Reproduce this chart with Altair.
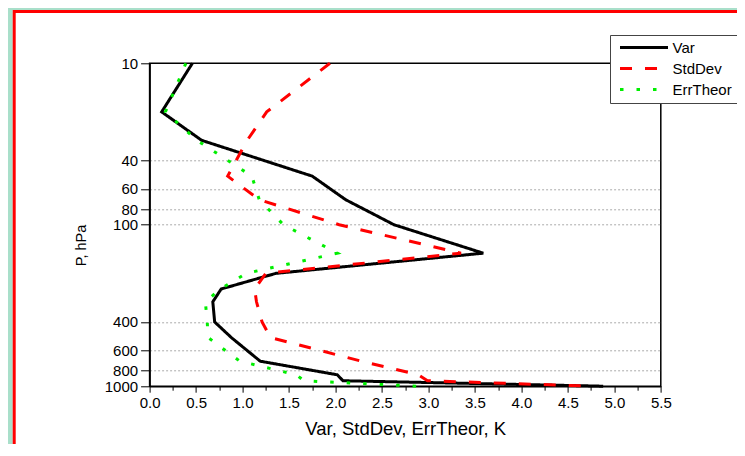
import altair as alt
import pandas as pd

# ---- data ----
pressure = [10, 20, 30, 50, 70, 100, 150, 200, 250, 300, 400, 500, 700, 850, 925, 1000]
var_vals = [0.46, 0.13, 0.56, 1.75, 2.11, 2.63, 3.59, 1.36, 0.77, 0.68, 0.70, 0.88, 1.19, 2.02, 2.08, 4.88]
stddev_vals = [1.94, 1.26, 1.05, 0.84, 1.18, 2.04, 3.35, 1.25, 1.13, 1.15, 1.21, 1.30, 2.28, 2.89, 2.99, 4.76]
errtheor_vals = [0.39, 0.17, 0.51, 1.10, 1.18, 1.44, 2.02, 1.04, 0.76, 0.60, 0.62, 0.63, 0.97, 1.58, 1.66, 2.88]

series_names = ["Var", "StdDev", "ErrTheor"]
series_colors = ["#000000", "#FF0000", "#00EE00"]
series_dashes = [[1, 0], [12, 13], [3.5, 13]]

y_tick_values = [10, 40, 60, 80, 100, 400, 600, 800, 1000]
x_tick_values = [0.0, 0.25, 0.5, 0.75, 1.0, 1.25, 1.5, 1.75, 2.0, 2.25, 2.5, 2.75,
                 3.0, 3.25, 3.5, 3.75, 4.0, 4.25, 4.5, 4.75, 5.0, 5.25, 5.5]

rows = []
for name, vals in zip(series_names, [var_vals, stddev_vals, errtheor_vals]):
    for p, v in zip(pressure, vals):
        rows.append({"series": name, "P": p, "value": v})
df = pd.DataFrame(rows)
one = pd.DataFrame({"k": [0]})

GREEN = "#A9DFCA"
FONT = "Liberation Sans"
W, H = 511.2, 322.9

leg = alt.Legend(
    title=None, orient="none", legendX=460.4, legendY=-28.3,
    symbolType="M-5,0H5", symbolSize=92.16, symbolStrokeWidth=3,
    symbolOffset=21.5, labelOffset=21, labelFontSize=15, labelFont=FONT,
    labelColor="black", rowPadding=5, padding=5,
    strokeColor="#444444", fillColor="white",
)

green_left = alt.Chart(one).mark_rect(fill=GREEN).encode(
    x=alt.value(-150), x2=alt.value(-136.9), y=alt.value(-60), y2=alt.value(420))
green_top = alt.Chart(one).mark_rect(fill=GREEN).encode(
    x=alt.value(-150), x2=alt.value(700), y=alt.value(-60), y2=alt.value(-53.3))
red_frame = alt.Chart(one).mark_rect(fillOpacity=0, stroke="#FF0000", strokeWidth=3).encode(
    x=alt.value(-135.4), x2=alt.value(700), y=alt.value(-51.8), y2=alt.value(500))

is_major = "round(datum.value*4) % 2 == 0"
is_edge = "datum.value == 10 || datum.value == 1000"

lines = alt.Chart(df).mark_line(strokeWidth=3, strokeCap="butt").encode(
    x=alt.X("value:Q",
            scale=alt.Scale(domain=[0, 5.5], nice=False, zero=False),
            axis=alt.Axis(values=x_tick_values,
                          labelExpr=f"{is_major} ? format(datum.value, '.1f') : ''",
                          tickSize={"condition": {"test": is_major, "value": 6}, "value": 4},
                          title="Var, StdDev, ErrTheor, K", titleFontSize=18.5,
                          titleFontWeight="normal", titleX=W / 2, titleY=48,
                          titleBaseline="alphabetic", titleAlign="center",
                          labelFontSize=15, labelPadding=3, grid=False,
                          labelFlush=False, labelOverlap=False,
                          domainColor="black", domainWidth=1.5,
                          tickColor="black", tickWidth=1,
                          labelColor="black", titleColor="black")),
    y=alt.Y("P:Q",
            scale=alt.Scale(type="log", domain=[10, 1000], reverse=True, nice=False),
            axis=alt.Axis(values=y_tick_values, format="d",
                          title="P, hPa", titleFontSize=14.5, titleFontWeight="normal",
                          titleAngle=270, titleX=-64, titleY=181.7,
                          titleBaseline="alphabetic", titleAlign="center",
                          labelFontSize=15, tickSize=9, labelPadding=3,
                          grid=True, gridDash=[2, 2], gridColor="#AAAAAA", gridWidth=1,
                          gridOpacity={"condition": {"test": is_edge, "value": 0}, "value": 1},
                          labelOverlap=False,
                          domainColor="black", domainWidth=1.5,
                          tickColor="black", tickWidth=1,
                          labelColor="black", titleColor="black")),
    color=alt.Color("series:N",
                    scale=alt.Scale(domain=series_names, range=series_colors),
                    legend=leg),
    strokeDash=alt.StrokeDash("series:N",
                              scale=alt.Scale(domain=series_names, range=series_dashes),
                              legend=leg),
    order=alt.Order("P:Q"),
)

chart = alt.layer(green_left, green_top, red_frame, lines).properties(
    width=W, height=H,
    padding={"left": 141.6, "top": 55.3, "right": 76.2, "bottom": 57.8},
    autosize=alt.AutoSizeParams(type="none"),
).configure(font=FONT, background="white").configure_view(
    stroke="black", strokeWidth=1.5)

chart.save("out.html", embed_options={"renderer": "svg", "actions": False})
